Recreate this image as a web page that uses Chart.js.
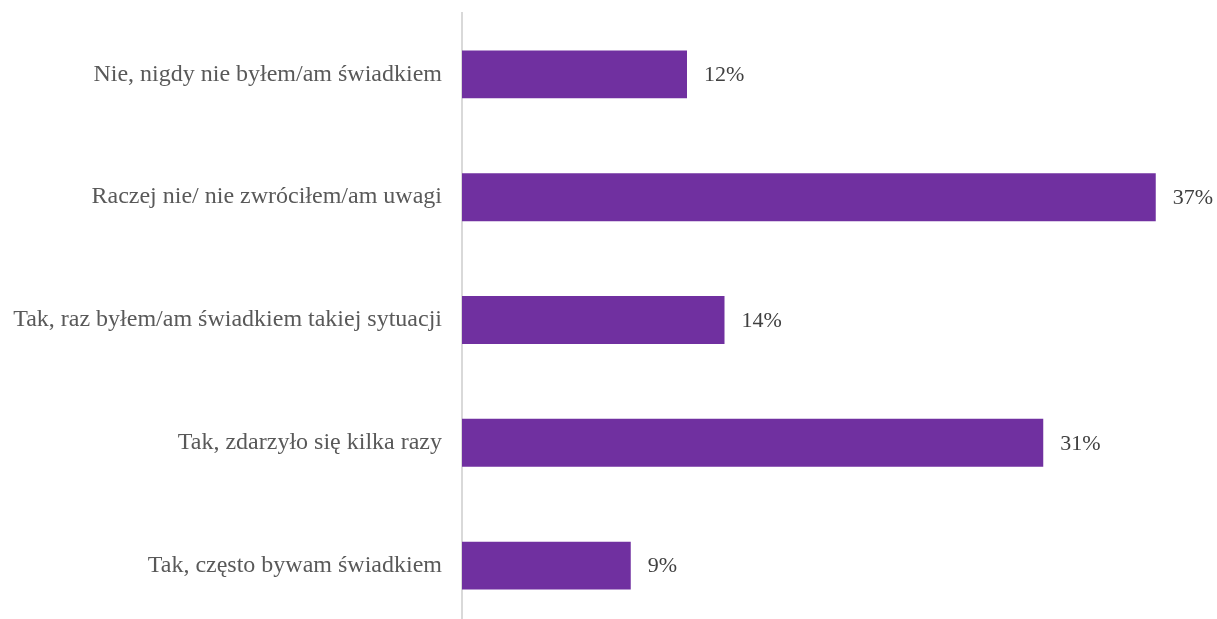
<!DOCTYPE html>
<html>
<head>
<meta charset="utf-8">
<script src="https://cdn.jsdelivr.net/npm/chart.js@4/dist/chart.umd.min.js"></script>
<style>
  html, body { margin: 0; padding: 0; background: #fff; overflow: hidden; }
  #wrap { width: 1217px; height: 628px; position: relative; }
</style>
</head>
<body>
<div id="wrap"><canvas id="chart"></canvas></div>
<script>
const categories = [
  'Nie, nigdy nie byłem/am świadkiem',
  'Raczej nie/ nie zwróciłem/am uwagi',
  'Tak, raz byłem/am świadkiem takiej sytuacji',
  'Tak, zdarzyło się kilka razy',
  'Tak, często bywam świadkiem'
];
const values = [12, 37, 14, 31, 9];

const font = "'Liberation Serif', 'Times New Roman', serif";

// percent labels just right of every bar
const valueLabels = {
  id: 'valueLabels',
  afterDatasetsDraw(chart) {
    const ctx = chart.ctx;
    const meta = chart.getDatasetMeta(0);
    ctx.save();
    ctx.font = '22px ' + font;
    ctx.fillStyle = '#404040';
    ctx.textBaseline = 'middle';
    ctx.textAlign = 'left';
    meta.data.forEach((bar, i) => {
      ctx.fillText(values[i] + '%', bar.x + 17, bar.y + 1);
    });
    ctx.restore();
  }
};

new Chart(document.getElementById('chart'), {
  type: 'bar',
  data: {
    labels: categories,
    datasets: [{
      data: values,
      backgroundColor: '#7030a0',
      categoryPercentage: 1,
      barPercentage: 0.39
    }]
  },
  options: {
    indexAxis: 'y',
    responsive: true,
    maintainAspectRatio: false,
    animation: false,
    layout: { padding: { top: 13, right: 5, bottom: 1, left: 0 } },
    plugins: { legend: { display: false }, tooltip: { enabled: false } },
    scales: {
      x: { display: false, min: 0, max: 40 },
      y: {
        grid: { display: false, drawTicks: false },
        border: { display: true, color: '#d9d9d9', width: 2 },
        ticks: {
          color: '#595959',
          padding: 20,
          font: { family: font, size: 24 }
        },
        afterFit(scale) {
          scale.width = 462;
          // no extra room above/below for the first and last label
          scale.paddingTop = 0;
          scale.paddingBottom = 0;
        }
      }
    }
  },
  plugins: [valueLabels]
});
</script>
</body>
</html>
